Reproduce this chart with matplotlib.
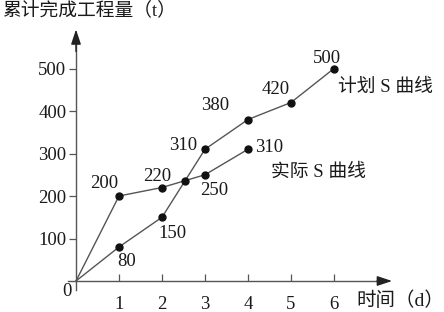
import matplotlib
matplotlib.use("Agg")
import matplotlib.pyplot as plt
import numpy as np

plt.rcParams['font.family'] = ['Liberation Serif', 'Noto Sans CJK SC', 'DejaVu Sans']

# data as drawn
plan_x = [0, 1, 2, 3, 4, 5, 6]
plan_y = [0, 80, 150, 310, 380, 420, 500]
act_x = [0, 1, 2, 3, 4]
act_y = [0, 200, 220, 250, 310]
x_ticks = [1, 2, 3, 4, 5, 6]
y_ticks = [100, 200, 300, 400, 500]
plan_name = "计划 S 曲线"
act_name = "实际 S 曲线"
y_title = "累计完成工程量（t）"
x_title = "时间（d）"

W, H = 444, 312
fig = plt.figure(figsize=(W / 100, H / 100), dpi=100)
ax = fig.add_axes([0, 0, 1, 1])
ax.patch.set_alpha(0)

# pixel mapping: x px = 76 + 43*x ; y px (from top) = 281 - 0.425*y
px0, pxs = 76.0, 43.0
py0, pys = 281.0, 0.425
ax.set_xlim(-px0 / pxs, (W - px0) / pxs)
ax.set_ylim(-(H - py0) / pys, py0 / pys)

line_c = '#555555'
dot_c = '#111111'
txt_c = '#1a1a1a'

ax.plot(plan_x, plan_y, color=line_c, lw=1.0, zorder=2)
ax.plot(act_x, act_y, color=line_c, lw=1.0, zorder=2)
ax.plot(plan_x[1:], plan_y[1:], 'o', color=dot_c, ms=5, zorder=3)
ax.plot(act_x[1:], act_y[1:], 'o', color=dot_c, ms=5, zorder=3)

# crossing point of the two curves between day 2 and day 3
p = np.polyfit(plan_x[2:4], plan_y[2:4], 1)
a = np.polyfit(act_x[2:4], act_y[2:4], 1)
xc = (a[1] - p[1]) / (p[0] - a[0])
yc = np.polyval(p, xc)
ax.plot([xc], [yc], 'o', color=dot_c, ms=5, zorder=3)

# axes
for s in ['top', 'right']:
    ax.spines[s].set_visible(False)
ax.spines['left'].set_position(('data', 0))
ax.spines['bottom'].set_position(('data', 0))
ax.spines['left'].set_bounds(-20, 570)
ax.spines['bottom'].set_bounds(-0.19, 7.2)
ax.spines['left'].set_color(line_c)
ax.spines['bottom'].set_color(line_c)
ax.spines['left'].set_linewidth(1.0)
ax.spines['bottom'].set_linewidth(1.0)
ax.annotate('', xy=(7.35, 0), xytext=(7.0, 0),
            arrowprops=dict(arrowstyle='-|>,head_length=0.9,head_width=0.3',
                            color='#222222', lw=1.0, shrinkA=0, shrinkB=0))
ax.annotate('', xy=(0, 592), xytext=(0, 540),
            arrowprops=dict(arrowstyle='-|>,head_length=0.9,head_width=0.3',
                            color='#222222', lw=1.0, shrinkA=0, shrinkB=0))

ax.set_xticks(x_ticks)
ax.set_xticklabels([str(v) for v in x_ticks])
ax.set_yticks(y_ticks)
ax.set_yticklabels([str(v) for v in y_ticks])
ax.tick_params(axis='x', direction='in', length=5, width=0.9, color=line_c,
               pad=11, labelsize=13.5, labelcolor=txt_c)
ax.tick_params(axis='y', direction='out', length=5, width=0.9, color=line_c,
               pad=2, labelsize=13.5, labelcolor=txt_c)

def px(xp, yp):
    return ((xp - px0) / pxs, (py0 - yp) / pys)

fs = 13.5
ax.text(*px(67, 291), "0", fontsize=fs, color=txt_c, ha='center', va='center')

# value labels (positions in pixels of the reference)
labels = [
    (104, 183, "200"), (157, 176, "220"), (183, 145, "310"), (215, 105, "380"),
    (276, 89, "420"), (327, 58, "500"),
    (127, 262, "80"), (172, 234, "150"), (214, 190, "250"), (269, 147, "310"),
]
for xp, yp, t in labels:
    ax.text(*px(xp, yp), t, fontsize=fs, color=txt_c, ha='center', va='center')

ax.text(*px(385, 87), plan_name, fontsize=13.5, color=txt_c, ha='center', va='center')
ax.text(*px(318, 172), act_name, fontsize=13.5, color=txt_c, ha='center', va='center')
ax.text(*px(2, 10), y_title, fontsize=13.5, color=txt_c, ha='left', va='center')
ax.text(*px(400, 301), x_title, fontsize=14, color=txt_c, ha='center', va='center')

fig.savefig("out.png", dpi=100)
